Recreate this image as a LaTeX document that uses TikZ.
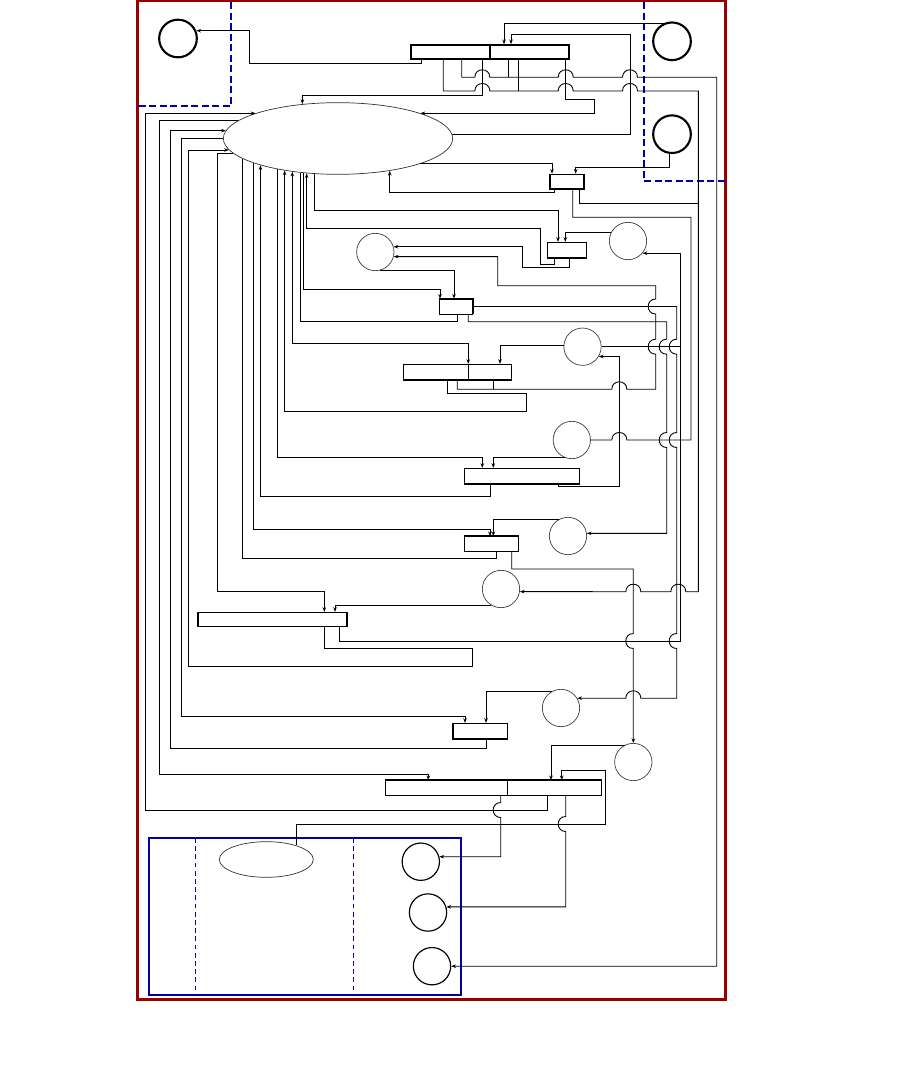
\documentclass[tikz,border=0pt]{standalone}
\usepackage{tikz}
\usetikzlibrary{shapes, arrows, arrows.meta, positioning}

\definecolor{framered}{RGB}{150,0,0}
\definecolor{laneblue}{RGB}{0,0,165}

% little bridges where one wire jumps over another
\newcommand{\hopd}[2]{-- (#1,#2-7.5) .. controls (#1-10,#2-7.5) and (#1-10,#2+7.5) .. (#1,#2+7.5)}
\newcommand{\hopu}[2]{-- (#1,#2+7.5) .. controls (#1-10,#2+7.5) and (#1-10,#2-7.5) .. (#1,#2-7.5)}
\newcommand{\hopr}[2]{-- (#1-7.5,#2) .. controls (#1-7.5,#2-10) and (#1+7.5,#2-10) .. (#1+7.5,#2)}
\newcommand{\hopl}[2]{-- (#1+7.5,#2) .. controls (#1+7.5,#2-10) and (#1-7.5,#2-10) .. (#1-7.5,#2)}

\begin{document}
\begin{tikzpicture}[x=0.3mm, y=-0.3mm]

    % Define block styles
    \tikzstyle{bigcirc} = [circle, draw, line width=1.8pt, minimum size=11.3mm, inner sep=0pt]
    \tikzstyle{circ} = [circle, draw=black!75, line width=0.6pt, minimum size=11.2mm, inner sep=0pt]
    \tikzstyle{outcirc} = [circle, draw, line width=1pt, minimum size=11.2mm, inner sep=0pt]
    \tikzstyle{reg} = [rectangle, draw, line width=0.7pt, minimum height=4.3mm, inner sep=0pt]
    \tikzstyle{heavy} = [line width=1.5pt]
    \tikzstyle{wire} = [line width=0.75pt]
    \tikzstyle{arrow} = [wire, ->, >={Stealth[length=4pt, width=3pt]}]
    \tikzstyle{lanedash} = [laneblue, line width=1.4pt, dash pattern=on 6pt off 3pt]

    \useasboundingbox (0,0) rectangle (901,1066);
    \fill[white] (0,0) rectangle (901,1066);

    % Frame and lanes
    \draw[framered, line width=2.3pt] (137.3,1) rectangle (725.7,999.3);
    \draw[lanedash] (231.3,2) -- (231.3,106) -- (138,106);
    \draw[lanedash] (643.7,2) -- (643.7,181) -- (725,181);
    \draw[laneblue, line width=1.9pt] (149,837.7) rectangle (461,995);
    \draw[laneblue, line width=0.6pt, dash pattern=on 4pt off 3pt] (195.3,838) -- (195.3,995);
    \draw[laneblue, line width=0.6pt, dash pattern=on 4pt off 3pt] (353.3,838) -- (353.3,995);

    % Place nodes
    \node (srcA) [bigcirc] at (178,38.5) {};
    \node (srcB) [bigcirc] at (672,41.3) {};
    \node (srcC) [bigcirc] at (672,134.2) {};
    \node (core) [ellipse, draw=black!80, line width=0.6pt, minimum width=68.8mm, minimum height=21.5mm, inner sep=0pt] at (338,138.5) {};
    \node (portL) [reg, heavy, minimum width=23.7mm] at (450.5,52.2) {};
    \node (portR) [reg, heavy, minimum width=23.7mm] at (529.5,52.2) {};
    \node (regA) [reg, minimum width=9.8mm] at (567,181.2) {};
    \node (regB) [reg, minimum width=11.8mm, minimum height=4.5mm] at (567,249.8) {};
    \node (regC) [reg, minimum width=9.9mm, minimum height=4.5mm] at (455.8,306.5) {};
    \node (regD) [reg, minimum width=32.5mm, minimum height=4.5mm] at (457.5,371.8) {};
    \node (regE) [reg, minimum width=34.5mm, minimum height=4.5mm] at (521.8,475.8) {};
    \node (regF) [reg, minimum width=16.2mm] at (491.3,543.8) {};
    \node (regG) [reg, minimum width=44.5mm] at (272.5,619.5) {};
    \node (regH) [reg, minimum width=16.3mm, minimum height=4.5mm] at (480.5,730.8) {};
    \node (regIL) [reg, minimum width=36.8mm] at (446.35,787.8) {};
    \node (regIR) [reg, minimum width=28mm] at (554.35,787.8) {};
    \node (stateA) [circ] at (375.3,252) {};
    \node (stateB) [circ] at (628,241) {};
    \node (stateC) [circ] at (582.5,346.7) {};
    \node (stateD) [circ] at (571.8,440) {};
    \node (stateE) [circ] at (568,536) {};
    \node (stateF) [circ] at (501,589) {};
    \node (stateG) [circ] at (561,708) {};
    \node (stateH) [circ] at (633.3,762) {};
    \node (aux) [ellipse, draw=black!80, line width=0.6pt, minimum width=28.2mm, minimum height=10.7mm, inner sep=0pt] at (266.3,859.5) {};
    \node (outA) [outcirc] at (420.8,861.7) {};
    \node (outB) [outcirc] at (428,912.5) {};
    \node (outC) [outcirc] at (432,966.2) {};

    % Heavy edges of the registers
    \draw[heavy] (regA.north west) -- (regA.south west) -- (regA.south east) -- (regA.north east);
    \draw[heavy] (regB.south west) -- (regB.south east);
    \draw[heavy] (regC.north west) -- (regC.north east) -- (regC.south east);
    \draw[heavy] (regD.south west) -- (regD.south east);
    \draw[heavy] (regE.south west) -- (regE.south east);
    \draw[heavy] (regF.north west) -- (regF.north east);
    \draw[heavy] (regF.south west) -- (regF.south east);
    \draw[heavy] (regG.north west) -- (regG.south west);
    \draw[heavy] (regG.north east) -- (regG.south east);
    \draw[heavy] (regH.north west) -- (regH.south west) -- (regH.south east);
    \draw[heavy] (regIL.north west) -- (regIL.north east);
    \draw[heavy] (regIR.north west) -- (regIR.north east) -- (regIR.south east);
    \draw[wire] (regD.north -| 468.3,0) -- (regD.south -| 468.3,0);

    % Draw arrows
    \draw [arrow] (portL.south -| 421.7,0) |- (249.3,63.3) |- (srcA.23);
    \draw [arrow] (srcB.113) -| (portR.north -| 504,0);
    \draw [arrow] (core.2) -| (630,34.3) -| (portR.north -| 511,0);
    \draw [wire] (portR.south -| 508.3,0) -- (508.3,77.3);
    \draw [arrow] (portL.south -| 461.7,0) -- (461.7,77.3) \hopr{482.3}{77.3} \hopr{565.7}{77.3} \hopr{630}{77.3} -- (716.7,77.3) |- (outC.east);
    \draw [wire] (portR.south -| 518.3,0) -- (518.3,91);
    \draw [arrow] (portL.south -| 443.3,0) -- (443.3,91) \hopr{482.3}{91} \hopr{565.7}{91} \hopr{630}{91} -- (698.3,91) -- (698.3,591.7) \hopl{678.3}{591.7} \hopl{633.3}{591.7} -- (stateF.352);
    \draw [arrow] (portL.south -| 482.3,0) -- (482.3,95) -| (core.136);
    \draw [arrow] (portR.south -| 565.7,0) |- (594.3,99.3) |- (core.17);
    \draw [arrow] (srcC.262) |- (575.7,167.3) -- (regA.north -| 575.7,0);
    \draw [arrow] (core.343) -| (regA.north -| 552,0);
    \draw [arrow] (regA.south -| 554,0) -- (554,192.3) -| (core.328);
    \draw [wire] (regA.south -| 572.7,0) |- (691,217.3) |- (626.8,440) \hopl{619.3}{440} -- (stateD.east);
    \draw [wire] (regA.south -| 579.3,0) |- (698.3,203.3);
    \draw [arrow] (core.236) |- (558,210.3) -- (regB.north -| 558,0);
    \draw [arrow] (stateB.153) -| (regB.north -| 565.3,0);
    \draw [arrow] (regB.south -| 554.3,0) |- (540,264.3) -- (540,228.3) -| (core.228);
    \draw [arrow] (regB.south -| 569.3,0) |- (522.3,267.3) |- (stateA.16);
    \draw [arrow] (stateA.285) -| (regC.north -| 454,0);
    \draw [arrow] (core.225) |- (440,289.3) -- (regC.north -| 440,0);
    \draw [arrow] (regC.east) -- (676.7,306.5) \hopd{676.7}{346.7} \hopd{676.7}{440} \hopd{676.7}{641} -- (676.7,698.3) \hopl{633.3}{698.3} -- (stateG.31);
    \draw [wire] (regC.south -| 457.3,0) -- (457.3,321) -| (core.222);
    \draw [arrow] (regC.south -| 468.3,0) |- (666.7,321.7) \hopd{666.7}{346.7} \hopd{666.7}{440} |- (stateE.8);
    \draw [arrow] (regD.south -| 457.3,0) -- (457.3,389.3) \hopr{619.3}{389.3} -- (655.7,389.3) \hopu{655.7}{346.7} \hopu{655.7}{306.5} |- (497.7,285.7) |- (stateA.346);
    \draw [wire] (regD.south -| 493.3,0) -- (493.3,389.3);
    \draw [wire] (stateC.east) -- (680,346.7);
    \draw [arrow] (regG.south -| 339.3,0) |- (680,641) |- (stateB.320);
    \draw [arrow] (regE.south -| 558.3,0) |- (619.3,486) |- (stateC.329);
    \draw [arrow] (stateC.175) -| (regD.north -| 500,0);
    \draw [arrow, <->] (core.216) |- (468.3,343.3) -- (regD.north -| 468.3,0);
    \draw [arrow] (regD.south -| 447.3,0) |- (526.7,393.3) -- (526.7,411) -| (core.211);
    \draw [arrow] (core.207) |- (482.3,457.1) -- (regE.north -| 482.3,0);
    \draw [arrow] (stateD.250) -| (regE.north -| 493.3,0);
    \draw [arrow] (regE.south -| 490,0) -- (490,496.7) -| (core.199);
    \draw [arrow] (core.196) |- (490,529.3) -- (regF.north -| 490,0);
    \draw [arrow] (stateE.117) -| (regF.north -| 493.3,0);
    \draw [wire] (regF.south -| 496.7,0) -- (496.7,558.3) -| (core.192);
    \draw [arrow] (regF.south -| 511.7,0) |- (633.3,569) \hopd{633.3}{641} -- (stateH.north);
    \draw [arrow] (stateF.239) -| (regG.north -| 335,0);
    \draw [arrow] (core.188) -| (217.3,591.3) -| (regG.north -| 324.3,0);
    \draw [arrow] (regG.south -| 324.3,0) |- (472.8,648.3) |- (188.7,666.7) |- (core.186);
    \draw [arrow] (stateG.120) -| (regH.north -| 486,0);
    \draw [arrow] (core.180) -| (181.3,716.7) -| (regH.north -| 465,0);
    \draw [arrow] (regH.south -| 486,0) |- (170.3,748.3) |- (core.176);
    \draw [arrow] (stateH.117) -| (regIR.north -| 551,0);
    \draw [arrow] (core.170) -| (159.7,774.3) -| (regIL.north -| 428.3,0);
    \draw [arrow] (aux.25) |- (605.7,824) |- (561.7,770) -- (regIR.north -| 561.7,0);
    \draw [arrow] (regIR.south -| 547.3,0) |- (145.3,810) |- (core.163);
    \draw [arrow] (regIL.south -| 500.7,0) \hopd{500.7}{810} |- (outA.15);
    \draw [arrow] (regIR.south -| 565.7,0) \hopd{565.7}{824} |- (outB.17);

\end{tikzpicture}
\end{document}
